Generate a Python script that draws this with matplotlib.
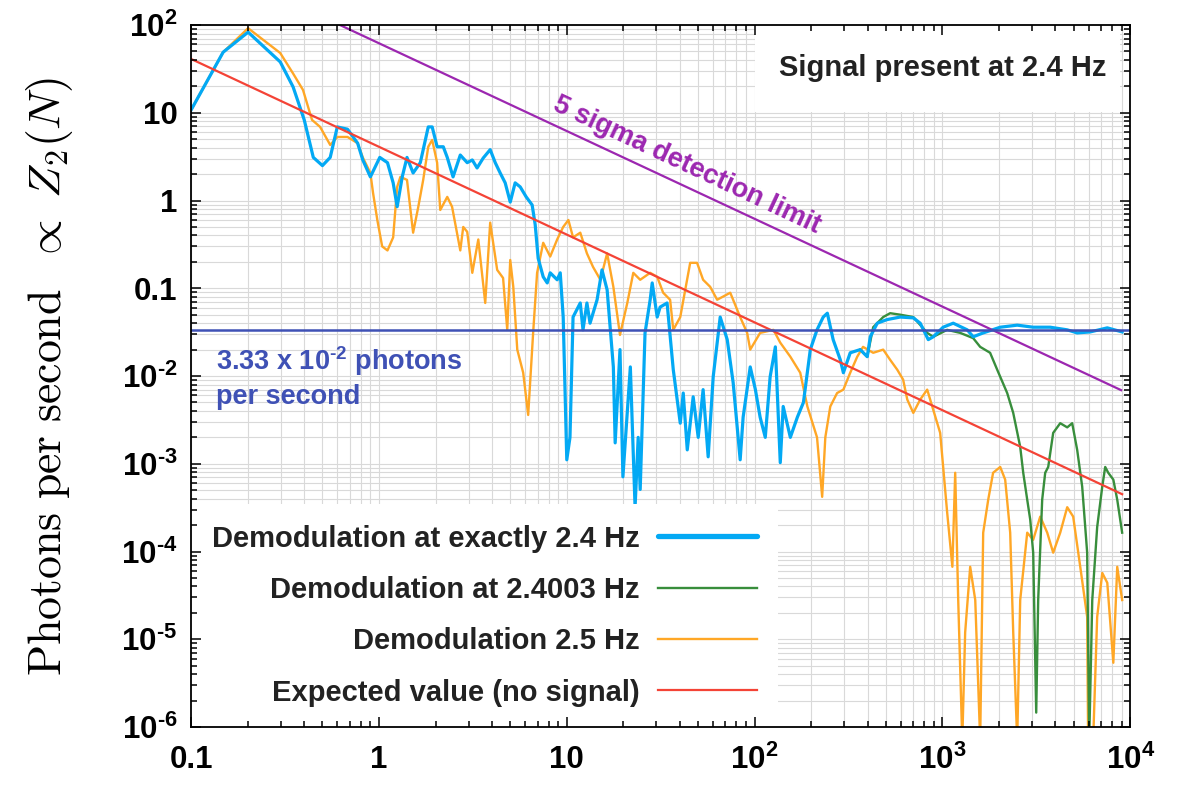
import numpy as np
import matplotlib
matplotlib.use("Agg")
import matplotlib.pyplot as plt
from matplotlib.patches import Rectangle
from matplotlib.ticker import LogLocator, NullFormatter

# values (x in Hz-ish units, y in photons per second)
blue_x = [0.1, 0.148, 0.201, 0.298, 0.349, 0.40, 0.447, 0.50, 0.55, 0.60,
          0.68, 0.77, 0.82, 0.90, 1.01, 1.11, 1.19, 1.25, 1.33, 1.41,
          1.52, 1.66, 1.83, 1.92, 2.04, 2.20, 2.31, 2.48, 2.71, 2.95,
          3.14, 3.33, 3.59, 3.91, 4.16, 4.42, 4.70, 5.0, 5.31, 5.65,
          6.08, 6.54, 6.79, 7.04, 7.49, 7.87, 8.16, 8.89, 9.23, 9.57,
          10.0, 10.4, 10.8, 11.8, 12.2, 12.8, 13.3, 14.5, 15.4, 16.4,
          17.7, 18.1, 19.2, 19.9, 21.8, 23.1, 24.0, 24.6, 26.1, 27.8,
          28.5, 30.3, 31.4, 34.2, 36.9, 40.2, 41.7, 43.8, 47.1, 50.1,
          53.2, 56.6, 60.2, 65.6, 71.5, 76.9, 83.8, 86.9, 94.8, 101,
          107, 114, 121, 129, 137, 142, 155, 169, 182, 198,
          215, 232, 244, 262, 286, 297, 323, 365, 398, 413,
          450, 508, 596, 700, 762, 841, 894, 1009, 1142, 1356,
          1459, 1649, 2032, 2502, 3044, 3750, 4620, 5220, 6120, 7550,
          9060]
blue_y = [10.8, 49, 83, 38, 19.7, 8.3, 3.1, 2.5, 3.1, 6.9,
          6.5, 4.5, 2.9, 1.86, 3.1, 2.7, 1.59, 0.85, 1.86, 3.1,
          2.06, 2.7, 6.9, 6.9, 4.1, 4.1, 3.1, 1.86, 3.3, 2.7,
          2.9, 2.35, 3.05, 3.8, 2.7, 2.06, 1.59, 0.96, 1.59, 1.43,
          1.10, 0.89, 0.53, 0.22, 0.135, 0.115, 0.150, 0.125, 0.150, 0.047,
          0.00111, 0.0020, 0.047, 0.068, 0.0336, 0.068, 0.040, 0.074, 0.162, 0.096,
          0.0127, 0.00173, 0.020, 0.00071, 0.0127, 0.00032, 0.0020, 0.00051, 0.031, 0.074,
          0.115, 0.047, 0.061, 0.068, 0.0118, 0.0029, 0.0064, 0.00144, 0.0058, 0.0020,
          0.0070, 0.0012, 0.0098, 0.047, 0.026, 0.0084, 0.00111, 0.0034, 0.0127, 0.0070,
          0.0034, 0.0020, 0.0098, 0.0215, 0.00103, 0.0045, 0.0020, 0.0034, 0.0050, 0.020,
          0.0336, 0.047, 0.052, 0.026, 0.0153, 0.0109, 0.0184, 0.020, 0.0166, 0.028,
          0.040, 0.044, 0.047, 0.046, 0.040, 0.026, 0.028, 0.036, 0.040, 0.0336,
          0.028, 0.031, 0.036, 0.038, 0.036, 0.036, 0.0336, 0.031, 0.0318, 0.0354,
          0.0318]

green_x = [365, 398, 428, 484, 527, 596, 700, 830, 894, 1060,
           1245, 1459, 1589, 1795, 1958, 2213, 2383, 2596, 2694, 2829,
           2936, 3044, 3159, 3236, 3399, 3527, 3660, 3890, 4240, 4620,
           4910, 5220, 5550, 5900, 6050, 6280, 6670, 7100, 7360, 7640,
           8130, 8530, 9060]
green_y = [0.020, 0.0166, 0.036, 0.047, 0.052, 0.050, 0.047, 0.031, 0.028, 0.0336,
           0.031, 0.027, 0.0215, 0.0184, 0.0118, 0.0064, 0.0038, 0.00156, 0.00079, 0.00039,
           0.00023, 9.7e-5, 1.46e-6, 2.8e-5, 0.00039, 0.00079, 0.00092, 0.00225, 0.0029, 0.0026,
           0.0029, 0.00144, 0.00055, 9.7e-5, 7e-7, 2.8e-5, 0.00019, 0.00055, 0.00092, 0.00079,
           0.00066, 0.00039, 0.000164]

orange_x = [0.1, 0.148, 0.201, 0.298, 0.349, 0.394, 0.44, 0.486, 0.55, 0.60,
            0.68, 0.77, 0.82, 0.90, 0.93, 0.98, 1.04, 1.11, 1.19, 1.25,
            1.30, 1.41, 1.52, 1.62, 1.72, 1.83, 1.92, 2.04, 2.12, 2.31,
            2.45, 2.61, 2.71, 2.81, 2.95, 3.14, 3.38, 3.68, 3.91, 4.26,
            4.58, 4.82, 5.0, 5.19, 5.45, 5.86, 6.23, 6.62, 6.95, 7.49,
            8.16, 8.89, 9.57, 10.2, 10.8, 11.8, 12.8, 13.8, 15.1, 16.4,
            17.7, 19.2, 21.0, 22.6, 24.6, 27.8, 30.3, 32.6, 35.5, 36.9,
            40.2, 45.4, 49.4, 53.2, 58.0, 63.2, 74.2, 83.8, 91.3, 94.8,
            107, 126, 137, 155, 175, 191, 215, 229, 238, 253,
            275, 297, 323, 352, 378, 428, 484, 527, 575, 618,
            650, 700, 762, 830, 894, 973, 1009, 1060, 1130, 1170,
            1214, 1276, 1322, 1406, 1496, 1589, 1649, 1754, 1862, 2032,
            2159, 2296, 2383, 2502, 2596, 2829, 3044, 3318, 3616, 3890,
            4240, 4620, 4970, 5420, 5900, 5970, 6350, 6670, 7100, 7550,
            8130, 8530, 9060]
orange_y = [10.8, 49, 92, 48, 28, 18.2, 8.3, 6.9, 4.3, 5.3,
            5.3, 4.5, 3.1, 2.06, 1.22, 0.60, 0.30, 0.27, 0.38, 1.43,
            1.86, 1.72, 0.43, 0.85, 1.72, 4.1, 4.9, 2.7, 0.78, 1.10,
            0.85, 0.41, 0.27, 0.50, 0.44, 0.150, 0.36, 0.068, 0.56, 0.162,
            0.131, 0.0336, 0.21, 0.104, 0.020, 0.0109, 0.0036, 0.031, 0.150, 0.33,
            0.23, 0.36, 0.50, 0.60, 0.38, 0.43, 0.25, 0.175, 0.125, 0.25,
            0.104, 0.0294, 0.068, 0.150, 0.125, 0.150, 0.135, 0.089, 0.074, 0.0336,
            0.047, 0.195, 0.195, 0.125, 0.104, 0.074, 0.089, 0.047, 0.031, 0.020,
            0.031, 0.0336, 0.024, 0.0166, 0.0109, 0.0045, 0.0020, 0.00042, 0.0020, 0.0045,
            0.0064, 0.0070, 0.0109, 0.0166, 0.0215, 0.0184, 0.020, 0.0153, 0.0118, 0.0091,
            0.0054, 0.0038, 0.0054, 0.0070, 0.0041, 0.00225, 0.00092, 0.00028, 6.7e-5, 0.00079,
            2.8e-5, 7e-7, 1.2e-5, 6.7e-5, 2.8e-5, 7e-7, 0.000164, 0.00039, 0.00079, 0.00092,
            0.00066, 0.000164, 1.2e-5, 7e-7, 2.8e-5, 0.000164, 0.000136, 0.00025, 0.000164, 9.7e-5,
            0.000164, 0.00032, 0.00025, 6.7e-5, 1.8e-5, 7e-7, 7e-7, 1.8e-5, 5.7e-5, 4.4e-5,
            5.4e-6, 6.7e-5, 2.8e-5]

expected_x = [0.1, 9060]
expected_y = [41, 4.5e-4]
sigma5_x = [0.62, 8950]
sigma5_y = [100, 6.9e-3]
signal_level = 3.33e-2

series_labels = ["Demodulation at exactly 2.4 Hz", "Demodulation at 2.4003 Hz",
                 "Demodulation 2.5 Hz", "Expected value (no signal)"]

xtick_vals = [0.1, 1, 10, 100, 1000, 10000]
xtick_labels = ["0.1", "1", "10", r"$10^{2}$", r"$10^{3}$", r"$10^{4}$"]
ytick_vals = [1e-6, 1e-5, 1e-4, 1e-3, 1e-2, 0.1, 1, 10, 100]
ytick_labels = [r"$10^{\text{-}6}$", r"$10^{\text{-}5}$", r"$10^{\text{-}4}$",
                r"$10^{\text{-}3}$", r"$10^{\text{-}2}$",
                "0.1", "1", "10", r"$10^{2}$"]

plt.rcParams['font.family'] = ['Liberation Sans', 'DejaVu Sans']
plt.rcParams['font.weight'] = 'bold'
plt.rcParams['mathtext.fontset'] = 'custom'
plt.rcParams['mathtext.rm'] = 'Liberation Sans:bold'
plt.rcParams['mathtext.it'] = 'Liberation Sans:bold'
plt.rcParams['mathtext.bf'] = 'Liberation Sans:bold'

BLUE = '#03a9f4'
GREEN = '#388e3c'
ORANGE = '#ffa726'
RED = '#f44336'
PURPLE = '#9c27b0'
INDIGO = '#3f51b5'
DARK = '#222222'

fig = plt.figure(figsize=(11.8, 7.87), dpi=100)
pos = [0.162, 0.0762, 0.7958, 0.892]


def setup_log(a):
    a.set_xscale('log')
    a.set_yscale('log')
    a.set_xlim(0.1, 1e4)
    a.set_ylim(1e-6, 1e2)
    a.xaxis.set_minor_locator(LogLocator(base=10, subs=np.arange(2, 10), numticks=100))
    a.yaxis.set_minor_locator(LogLocator(base=10, subs=np.arange(2, 10), numticks=100))


# grid lives on its own axes underneath, so the white boxes can hide it but not the ticks
grid_ax = fig.add_axes(pos, zorder=0)
setup_log(grid_ax)
grid_ax.grid(which='both', color='#d9d9d9', lw=0.8)
grid_ax.tick_params(which='both', length=0, labelbottom=False, labelleft=False)
for s in grid_ax.spines.values():
    s.set_visible(False)

ax = fig.add_axes(pos, zorder=1)
ax.set_facecolor('none')
setup_log(ax)
ax.set_axisbelow(False)

ax.plot(orange_x, orange_y, color=ORANGE, lw=1.7, zorder=2)
ax.plot(green_x, green_y, color=GREEN, lw=1.7, zorder=2)
l_blue, = ax.plot(blue_x, blue_y, color=BLUE, lw=2.3, zorder=2)
l_green = plt.Line2D([], [], color=GREEN, lw=1.7)
l_orange = plt.Line2D([], [], color=ORANGE, lw=1.7)
l_red, = ax.plot(expected_x, expected_y, color=RED, lw=1.6, zorder=2.1)
ax.plot(sigma5_x, sigma5_y, color=PURPLE, lw=1.6, zorder=2.1)
ax.axhline(signal_level, color=INDIGO, lw=1.8, zorder=2.1)

ax.set_xticks(xtick_vals, xtick_labels)
ax.set_yticks(ytick_vals, ytick_labels)
ax.xaxis.set_minor_formatter(NullFormatter())
ax.yaxis.set_minor_formatter(NullFormatter())
ax.tick_params(which='both', direction='in', top=True, right=True, width=1.1, color='black')
ax.tick_params(which='major', length=7.5, labelsize=22.5)
ax.tick_params(which='minor', length=4)
ax.tick_params(axis='x', which='major', pad=13)
ax.tick_params(axis='y', which='major', pad=10)
for s in ax.spines.values():
    s.set_linewidth(1.3)

ax.set_ylabel(r"$\mathrm{Photons\ per\ second}\ \ \propto\ Z_2(N)$",
              fontsize=33, math_fontfamily='cm')
ax.yaxis.set_label_coords(-0.124, 0.5)

leg = ax.legend([l_blue, l_green, l_orange, l_red], series_labels,
                loc='lower left', bbox_to_anchor=(0, 0), borderaxespad=0,
                markerfirst=False, frameon=True, fancybox=False, framealpha=1,
                facecolor='white', edgecolor='none',
                prop={'weight': 'bold', 'size': 21},
                handlelength=3.4, handletextpad=0.65, labelspacing=0.8, borderpad=0.7)
for t in leg.get_texts():
    t.set_color(DARK)
leg.get_lines()[0].set_linewidth(3.8)
leg.get_lines()[0].set_solid_capstyle('round')
leg.set_zorder(2.3)

ax.add_patch(Rectangle((0.60, 0.876), 0.389, 0.124, transform=ax.transAxes,
                       facecolor='white', edgecolor='none', zorder=2.3))
ax.text(0.80, 0.939, "Signal present at 2.4 Hz", transform=ax.transAxes,
        ha='center', va='center', fontsize=21, fontweight='bold', color=DARK, zorder=2.4)

ax.text(43.8, 2.54, "5 sigma detection limit", rotation=-25.1, rotation_mode='anchor',
        ha='center', va='center', fontsize=19.5, fontweight='bold', color=PURPLE)

ax.text(0.026, 0.545, "3.33 x 10$^{\\text{-}2}$ photons\nper second", transform=ax.transAxes,
        ha='left', va='top', fontsize=19.5, fontweight='bold', color=INDIGO, linespacing=1.3)

fig.savefig("out.png", dpi=100)
